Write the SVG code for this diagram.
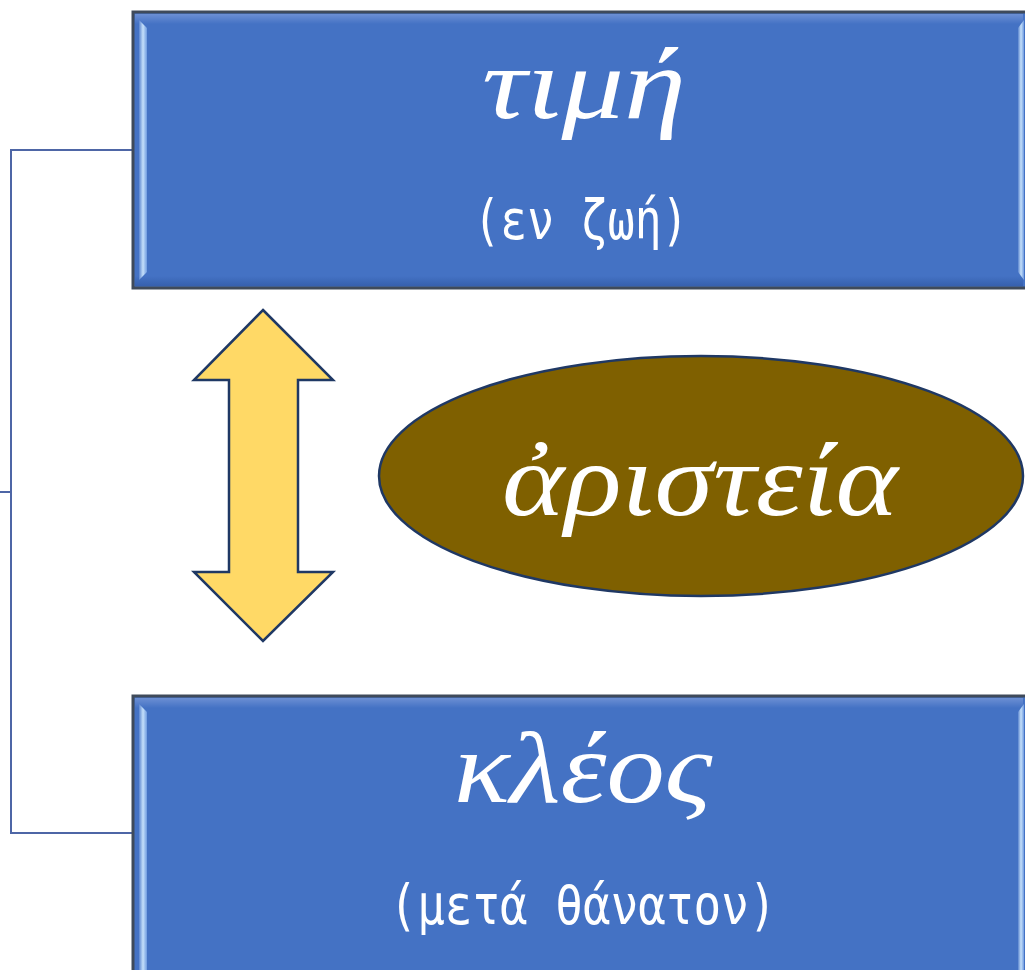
<svg xmlns="http://www.w3.org/2000/svg" width="1025" height="970" viewBox="0 0 1025 970">
  <defs>
    <linearGradient id="bevL" x1="0" y1="0" x2="1" y2="0">
      <stop offset="0" stop-color="#5B85CF"/>
      <stop offset="0.5" stop-color="#C5E0FA"/>
      <stop offset="1" stop-color="#6F9BE0"/>
    </linearGradient>
    <linearGradient id="bevT" x1="0" y1="0" x2="0" y2="1">
      <stop offset="0" stop-color="#6C8FD3"/>
      <stop offset="1" stop-color="#4472C4"/>
    </linearGradient>
    <linearGradient id="bevB" x1="0" y1="0" x2="0" y2="1">
      <stop offset="0" stop-color="#4472C4"/>
      <stop offset="1" stop-color="#3660AE"/>
    </linearGradient>
  </defs>
  <style>
    .box { fill: #4472C4; stroke: #3F4A5A; stroke-width: 3; }
    .conn { fill: none; stroke: #4E66A6; stroke-width: 2; }
    .main { font-family: "Liberation Serif", "DejaVu Serif", serif; font-style: italic; fill: #FFFFFF; text-anchor: middle; }
    .sub { font-family: "DejaVu Sans Mono", "Liberation Mono", monospace; fill: #FFFFFF; text-anchor: middle; }
  </style>
  <rect width="1025" height="970" fill="#FFFFFF"/>

  <g id="connectors">
    <path class="conn" d="M133 150 H11 V833 H133"/>
    <path class="conn" d="M0 492 H11"/>
  </g>

  <g id="node-timi">
    <rect class="box" x="133" y="12" width="900" height="276"/>
    <rect x="135" y="14" width="888" height="10" fill="url(#bevT)"/>
    <rect x="135" y="276" width="888" height="10" fill="url(#bevB)"/>
    <path d="M139 20 L147 28 L147 272 L139 280 Z" fill="url(#bevL)"/>
    <path d="M1024 20 L1018 28 L1018 272 L1024 280 Z" fill="url(#bevL)"/>
    <text class="main" x="584" y="118" font-size="102" textLength="204" lengthAdjust="spacingAndGlyphs">τιμή</text>
    <text class="sub" x="581" y="239" font-size="55" textLength="215" lengthAdjust="spacingAndGlyphs">(εν ζωή)</text>
  </g>

  <g id="node-arrow">
    <path d="M263 310 L333 380 L298 380 L298 572 L333 572 L263 641 L194 572 L229 572 L229 380 L194 380 Z" fill="#FFD966" stroke="#1F3864" stroke-width="2.5" stroke-linejoin="miter"/>
  </g>

  <g id="node-aristeia">
    <ellipse cx="701" cy="476" rx="322" ry="120" fill="#7F6000" stroke="#1F3864" stroke-width="2.5"/>
    <text class="main" x="700" y="515" font-size="104" textLength="396" lengthAdjust="spacingAndGlyphs">ἀριστεία</text>
  </g>

  <g id="node-kleos">
    <rect class="box" x="133" y="696" width="900" height="290"/>
    <rect x="135" y="698" width="888" height="10" fill="url(#bevT)"/>
    <path d="M139 704 L147 712 L147 975 L139 975 Z" fill="url(#bevL)"/>
    <path d="M1024 704 L1018 712 L1018 975 L1024 975 Z" fill="url(#bevL)"/>
    <text class="main" x="583" y="802" font-size="102" textLength="258" lengthAdjust="spacingAndGlyphs">κλέος</text>
    <text class="sub" x="583" y="924" font-size="55" textLength="387" lengthAdjust="spacingAndGlyphs">(μετά θάνατον)</text>
  </g>
</svg>
